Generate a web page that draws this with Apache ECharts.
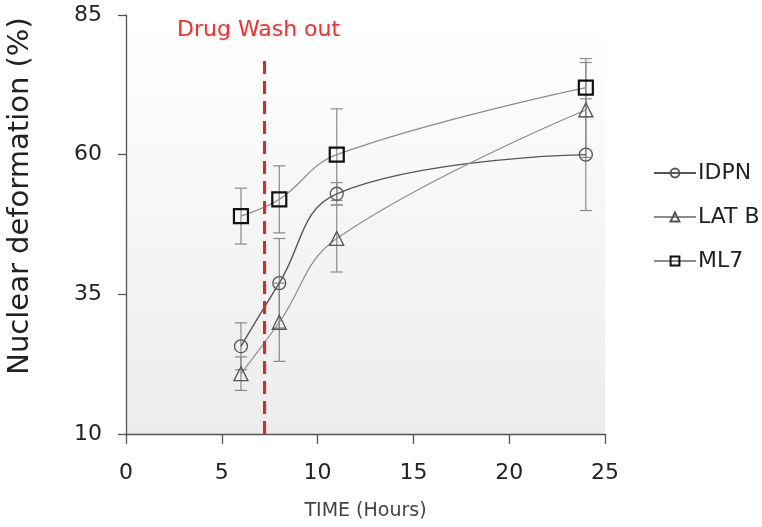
<!DOCTYPE html>
<html>
<head>
<meta charset="utf-8">
<script src="https://cdn.jsdelivr.net/npm/echarts@6/dist/echarts.min.js"></script>
<style>
  html, body { margin: 0; padding: 0; background: #fff; }
  #chart { width: 762px; height: 527px; }
</style>
</head>
<body>
<div id="chart"></div>
<script>
// time points (hours)
const hours = [6, 8, 11, 24]
// mean nuclear deformation (%)
const idpn = [25.7, 37, 53, 60]
const latB = [20.8, 30, 45, 68]
const ml7 = [49, 52, 60, 72]
// error (+/-)
const idpnErr = [4.2, 8, 2, 10]
const latBErr = [3, 7, 6, 8.5]
const ml7Err = [5, 6, 8.2, 5.2]
// drug wash out marker
const washX = 7.23
const washRange = [10, 77.3]

const font = '"DejaVu Sans", sans-serif'

const chart = echarts.init(document.getElementById('chart'))

const pairs = (ys) => hours.map((x, i) => [x, ys[i]])
const errData = (ys, es) => hours.map((x, i) => [x, ys[i] - es[i], ys[i] + es[i]])

const errorSeries = (name, ys, es) => ({
  name: name,
  type: 'custom',
  data: errData(ys, es),
  z: 1,
  silent: true,
  renderItem: function (params, api) {
    const x = api.value(0)
    const lo = api.coord([x, api.value(1)])
    const hi = api.coord([x, api.value(2)])
    const w = 6
    const style = { stroke: '#8a8a8a', lineWidth: 1.2 }
    return {
      type: 'group',
      children: [
        { type: 'line', shape: { x1: lo[0], y1: lo[1], x2: hi[0], y2: hi[1] }, style: style },
        { type: 'line', shape: { x1: lo[0] - w, y1: lo[1], x2: lo[0] + w, y2: lo[1] }, style: style },
        { type: 'line', shape: { x1: hi[0] - w, y1: hi[1], x2: hi[0] + w, y2: hi[1] }, style: style }
      ]
    }
  }
})

const option = {
  animation: false,
  grid: {
    left: 126, right: 157, top: 15, bottom: 93,
    show: true,
    borderWidth: 0,
    backgroundColor: new echarts.graphic.LinearGradient(0, 0, 0, 1, [
      { offset: 0, color: '#ffffff' },
      { offset: 1, color: '#ececec' }
    ])
  },
  legend: {
    orient: 'vertical',
    left: 648,
    top: 156,
    itemWidth: 42,
    itemHeight: 11,
    itemGap: 20,
    data: ['IDPN', 'LAT B', 'ML7'],
    textStyle: { fontFamily: font, fontSize: 22, lineHeight: 24, color: '#222', padding: [0, 0, 0, -3] }
  },
  xAxis: {
    type: 'value',
    min: 0, max: 25, interval: 5,
    name: 'TIME (Hours)',
    nameLocation: 'middle',
    nameGap: 68,
    nameTextStyle: { fontFamily: font, fontSize: 19, color: '#444' },
    axisLine: { lineStyle: { color: '#555', width: 1.3 } },
    axisTick: { length: 10, lineStyle: { color: '#555', width: 1.3 } },
    axisLabel: { fontFamily: font, fontSize: 22, color: '#222', margin: 28 },
    splitLine: { show: false }
  },
  yAxis: {
    type: 'value',
    min: 10, max: 85, interval: 25,
    axisLine: { show: true, lineStyle: { color: '#555', width: 1.3 } },
    axisTick: { show: true, length: 8, lineStyle: { color: '#555', width: 1.3 } },
    axisLabel: { fontFamily: font, fontSize: 22, color: '#222', margin: 24 },
    splitLine: { show: false }
  },
  graphic: [{
    type: 'text',
    left: 177,
    top: 19,
    style: { text: 'Drug Wash out', fontFamily: font, fontSize: 22, fill: '#ff2a2a' }
  }, {
    type: 'text',
    x: 20,
    y: 196,
    rotation: Math.PI / 2,
    style: {
      text: 'Nuclear deformation (%)', fontFamily: font, fontSize: 29, fill: '#222',
      align: 'center', verticalAlign: 'middle'
    }
  }],
  series: [
    errorSeries('IDPN-err', idpn, idpnErr),
    errorSeries('LATB-err', latB, latBErr),
    errorSeries('ML7-err', ml7, ml7Err),
    {
      name: 'IDPN',
      type: 'line',
      data: pairs(idpn),
      smooth: 0.4,
      z: 3,
      symbol: 'circle',
      symbolSize: 13,
      lineStyle: { color: '#555', width: 1.4 },
      itemStyle: { color: 'rgba(0,0,0,0)', borderColor: '#555', borderWidth: 1.3 },
      markLine: {
        silent: true,
        symbol: 'none',
        label: { show: false },
        lineStyle: { color: '#ff1a1a', type: [13, 7], width: 3 },
        data: [[{ coord: [washX, washRange[0]] }, { coord: [washX, washRange[1]] }]]
      }
    },
    {
      name: 'LAT B',
      type: 'line',
      data: pairs(latB),
      smooth: 0.4,
      z: 3,
      symbol: 'triangle',
      symbolSize: 14,
      lineStyle: { color: '#8c8c8c', width: 1.2 },
      itemStyle: { color: 'rgba(0,0,0,0)', borderColor: '#555', borderWidth: 1.3 }
    },
    {
      name: 'ML7',
      type: 'line',
      data: pairs(ml7),
      smooth: 0.4,
      z: 3,
      symbol: 'rect',
      symbolSize: 14,
      lineStyle: { color: '#8c8c8c', width: 1.2 },
      itemStyle: { color: 'rgba(0,0,0,0)', borderColor: '#111', borderWidth: 2.2 }
    }
  ]
}

chart.setOption(option)
</script>
</body>
</html>
